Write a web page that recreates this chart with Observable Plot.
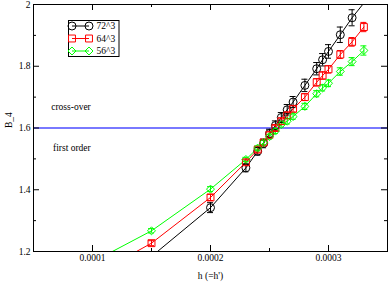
<!DOCTYPE html>
<html>
<head>
<meta charset="utf-8">
<script src="https://cdn.jsdelivr.net/npm/d3@7"></script>
<script src="https://cdn.jsdelivr.net/npm/@observablehq/plot@0.6"></script>
<style>
  html, body { margin: 0; padding: 0; background: white; }
  #chart { position: relative; width: 388px; height: 285px; }
</style>
</head>
<body>
<div id="chart"></div>
<script>
const h = [0.0001, 0.00015, 0.0002, 0.00023, 0.00024, 0.000245, 0.00025, 0.000255, 0.00026, 0.000265, 0.00027, 0.00028, 0.00029, 0.000295, 0.0003, 0.00031, 0.00032, 0.00033];
const b72 = [1.05, 1.184, 1.342, 1.471, 1.525, 1.55, 1.582, 1.608, 1.634, 1.659, 1.684, 1.738, 1.792, 1.821, 1.848, 1.902, 1.957, 2.005];
const e72 = [0.01, 0.01, 0.016, 0.013, 0.013, 0.014, 0.014, 0.015, 0.016, 0.017, 0.018, 0.02, 0.02, 0.02, 0.022, 0.025, 0.026, 0.028];
const b64 = [1.121, 1.227, 1.375, 1.489, 1.530, 1.553, 1.578, 1.600, 1.622, 1.641, 1.662, 1.700, 1.748, 1.770, 1.790, 1.838, 1.879, 1.927];
const e64 = [0.008, 0.008, 0.01, 0.008, 0.008, 0.008, 0.009, 0.009, 0.01, 0.01, 0.01, 0.011, 0.012, 0.012, 0.012, 0.013, 0.014, 0.015];
const b56 = [1.166, 1.267, 1.402, 1.498, 1.535, 1.553, 1.572, 1.590, 1.611, 1.622, 1.637, 1.670, 1.711, 1.730, 1.745, 1.783, 1.815, 1.851];
const e56 = [0.007, 0.007, 0.008, 0.007, 0.007, 0.008, 0.008, 0.008, 0.008, 0.009, 0.009, 0.01, 0.01, 0.01, 0.011, 0.012, 0.013, 0.015];

const seriesNames = ["72^3", "64^3", "56^3"];
const seriesColors = ["#000000", "#ff0000", "#00ff00"];
const seriesSymbols = ["circle", "square", "diamond2"];
const seriesR = [4, 3.9, 3.6];

const xMajor = [0.0001, 0.0002, 0.0003];
const xMinor = [0.00015, 0.00025];
const yMajor = [1.2, 1.4, 1.6, 1.8, 2];
const yMinor = [1.3, 1.5, 1.7, 1.9];
const xDomain = [0.00005, 0.00035];
const yDomain = [1.2, 2];
const crossLevel = 1.6;
const annotations = [
  {x: 0.000065, y: 1.657, text: "cross-over"},
  {x: 0.0000665, y: 1.524, text: "first order"}
];

const W = 388, H = 285;
const mL = 33, mR = 1, mT = 4, mB = 34;
const plotW = W - mL - mR, plotH = H - mT - mB;
const font = "Liberation Serif, Times New Roman, serif";

const raw = [b72, b64, b56];
const errs = [e72, e64, e56];
const data = [];
raw.forEach((vals, s) => vals.forEach((v, i) => data.push({h: h[i], v, e: errs[s][i], s: seriesNames[s]})));
const shown = data.filter(d => d.v >= yDomain[0] && d.v <= yDomain[1]);

const marks = [
  Plot.ruleY([crossLevel], {stroke: "#4d4dff", strokeWidth: 1.5}),
  Plot.line(data, {x: "h", y: "v", z: "s", stroke: "s", strokeWidth: 1, clip: true}),
  Plot.ruleX(shown, {x: "h", y1: d => d.v - d.e, y2: d => d.v + d.e, stroke: "s", strokeWidth: 1, clip: true}),
  Plot.ruleY(shown, {y: d => d.v + d.e, x1: "h", x2: "h", insetLeft: -3, insetRight: -3, stroke: "s", strokeWidth: 1, clip: true}),
  Plot.ruleY(shown, {y: d => d.v - d.e, x1: "h", x2: "h", insetLeft: -3, insetRight: -3, stroke: "s", strokeWidth: 1, clip: true})
];
seriesNames.forEach((name, s) => {
  marks.push(Plot.dot(shown.filter(d => d.s === name), {x: "h", y: "v", symbol: () => seriesSymbols[s], r: seriesR[s], stroke: seriesColors[s], fill: "none", strokeWidth: 1, clip: true}));
});
marks.push(
  Plot.tickX(xMajor, {x: d => d, insetTop: plotH - 6, stroke: "black"}),
  Plot.tickX(xMajor, {x: d => d, insetBottom: plotH - 6, stroke: "black"}),
  Plot.tickX(xMinor, {x: d => d, insetTop: plotH - 3, stroke: "black"}),
  Plot.tickX(xMinor, {x: d => d, insetBottom: plotH - 3, stroke: "black"}),
  Plot.tickY(yMajor, {y: d => d, insetRight: plotW - 6, stroke: "black"}),
  Plot.tickY(yMajor, {y: d => d, insetLeft: plotW - 6, stroke: "black"}),
  Plot.tickY(yMinor, {y: d => d, insetRight: plotW - 3, stroke: "black"}),
  Plot.tickY(yMinor, {y: d => d, insetLeft: plotW - 3, stroke: "black"}),
  Plot.frame({stroke: "black", strokeWidth: 1}),
  Plot.axisX({ticks: xMajor, tickSize: 0, tickPadding: 3, tickFormat: d => d.toFixed(4), label: null, fontSize: 9.5, fontFamily: font}),
  Plot.axisY({ticks: yMajor, tickSize: 0, tickPadding: 3, tickFormat: d => (d === 2 ? "2" : d.toFixed(1)), label: null, fontSize: 9.5, fontFamily: font}),
  Plot.text(annotations, {x: "x", y: "y", text: "text", textAnchor: "start", lineAnchor: "bottom", fontSize: 9.5, fontFamily: font, fill: "black"}),
  Plot.text(["h (=h')"], {frameAnchor: "bottom", dy: 27, text: d => d, fontSize: 9.5, fontFamily: font, fill: "black"}),
  Plot.text(["B_4"], {frameAnchor: "left", dx: -25, rotate: -90, text: d => d, fontSize: 9.5, fontFamily: font, fill: "black"})
);

const chart = Plot.plot({
  width: W, height: H,
  marginLeft: mL, marginRight: mR, marginTop: mT, marginBottom: mB,
  style: {background: "white", fontFamily: font, color: "black"},
  x: {domain: xDomain, axis: null},
  y: {domain: yDomain, axis: null},
  color: {domain: seriesNames, range: seriesColors},
  marks
});
document.getElementById("chart").appendChild(chart);

// legend
const svg = d3.select(chart);
const lg = svg.append("g").attr("font-family", font).attr("font-size", 9.5).attr("text-anchor", "start");
const lx = 68.5, ly = 20.5, lw = 50.5, lh = 36;
lg.append("rect").attr("x", lx).attr("y", ly).attr("width", lw).attr("height", lh).attr("fill", "white").attr("stroke", "black");
seriesNames.forEach((name, i) => {
  const cy = ly + 5.5 + i * 12.5;
  const g = lg.append("g");
  g.append("line").attr("x1", 72).attr("x2", 89).attr("y1", cy).attr("y2", cy).attr("stroke", seriesColors[i]);
  const sym = d3.symbol().type({circle: d3.symbolCircle, square: d3.symbolSquare, diamond2: d3.symbolDiamond2}[seriesSymbols[i]]).size(seriesR[i] * seriesR[i] * Math.PI);
  [72, 89].forEach(px => g.append("path").attr("d", sym()).attr("transform", `translate(${px},${cy})`).attr("fill", "none").attr("stroke", seriesColors[i]));
  g.append("text").attr("x", 96.5).attr("y", cy + 3.3).attr("fill", "black").text(name);
});
</script>
</body>
</html>
